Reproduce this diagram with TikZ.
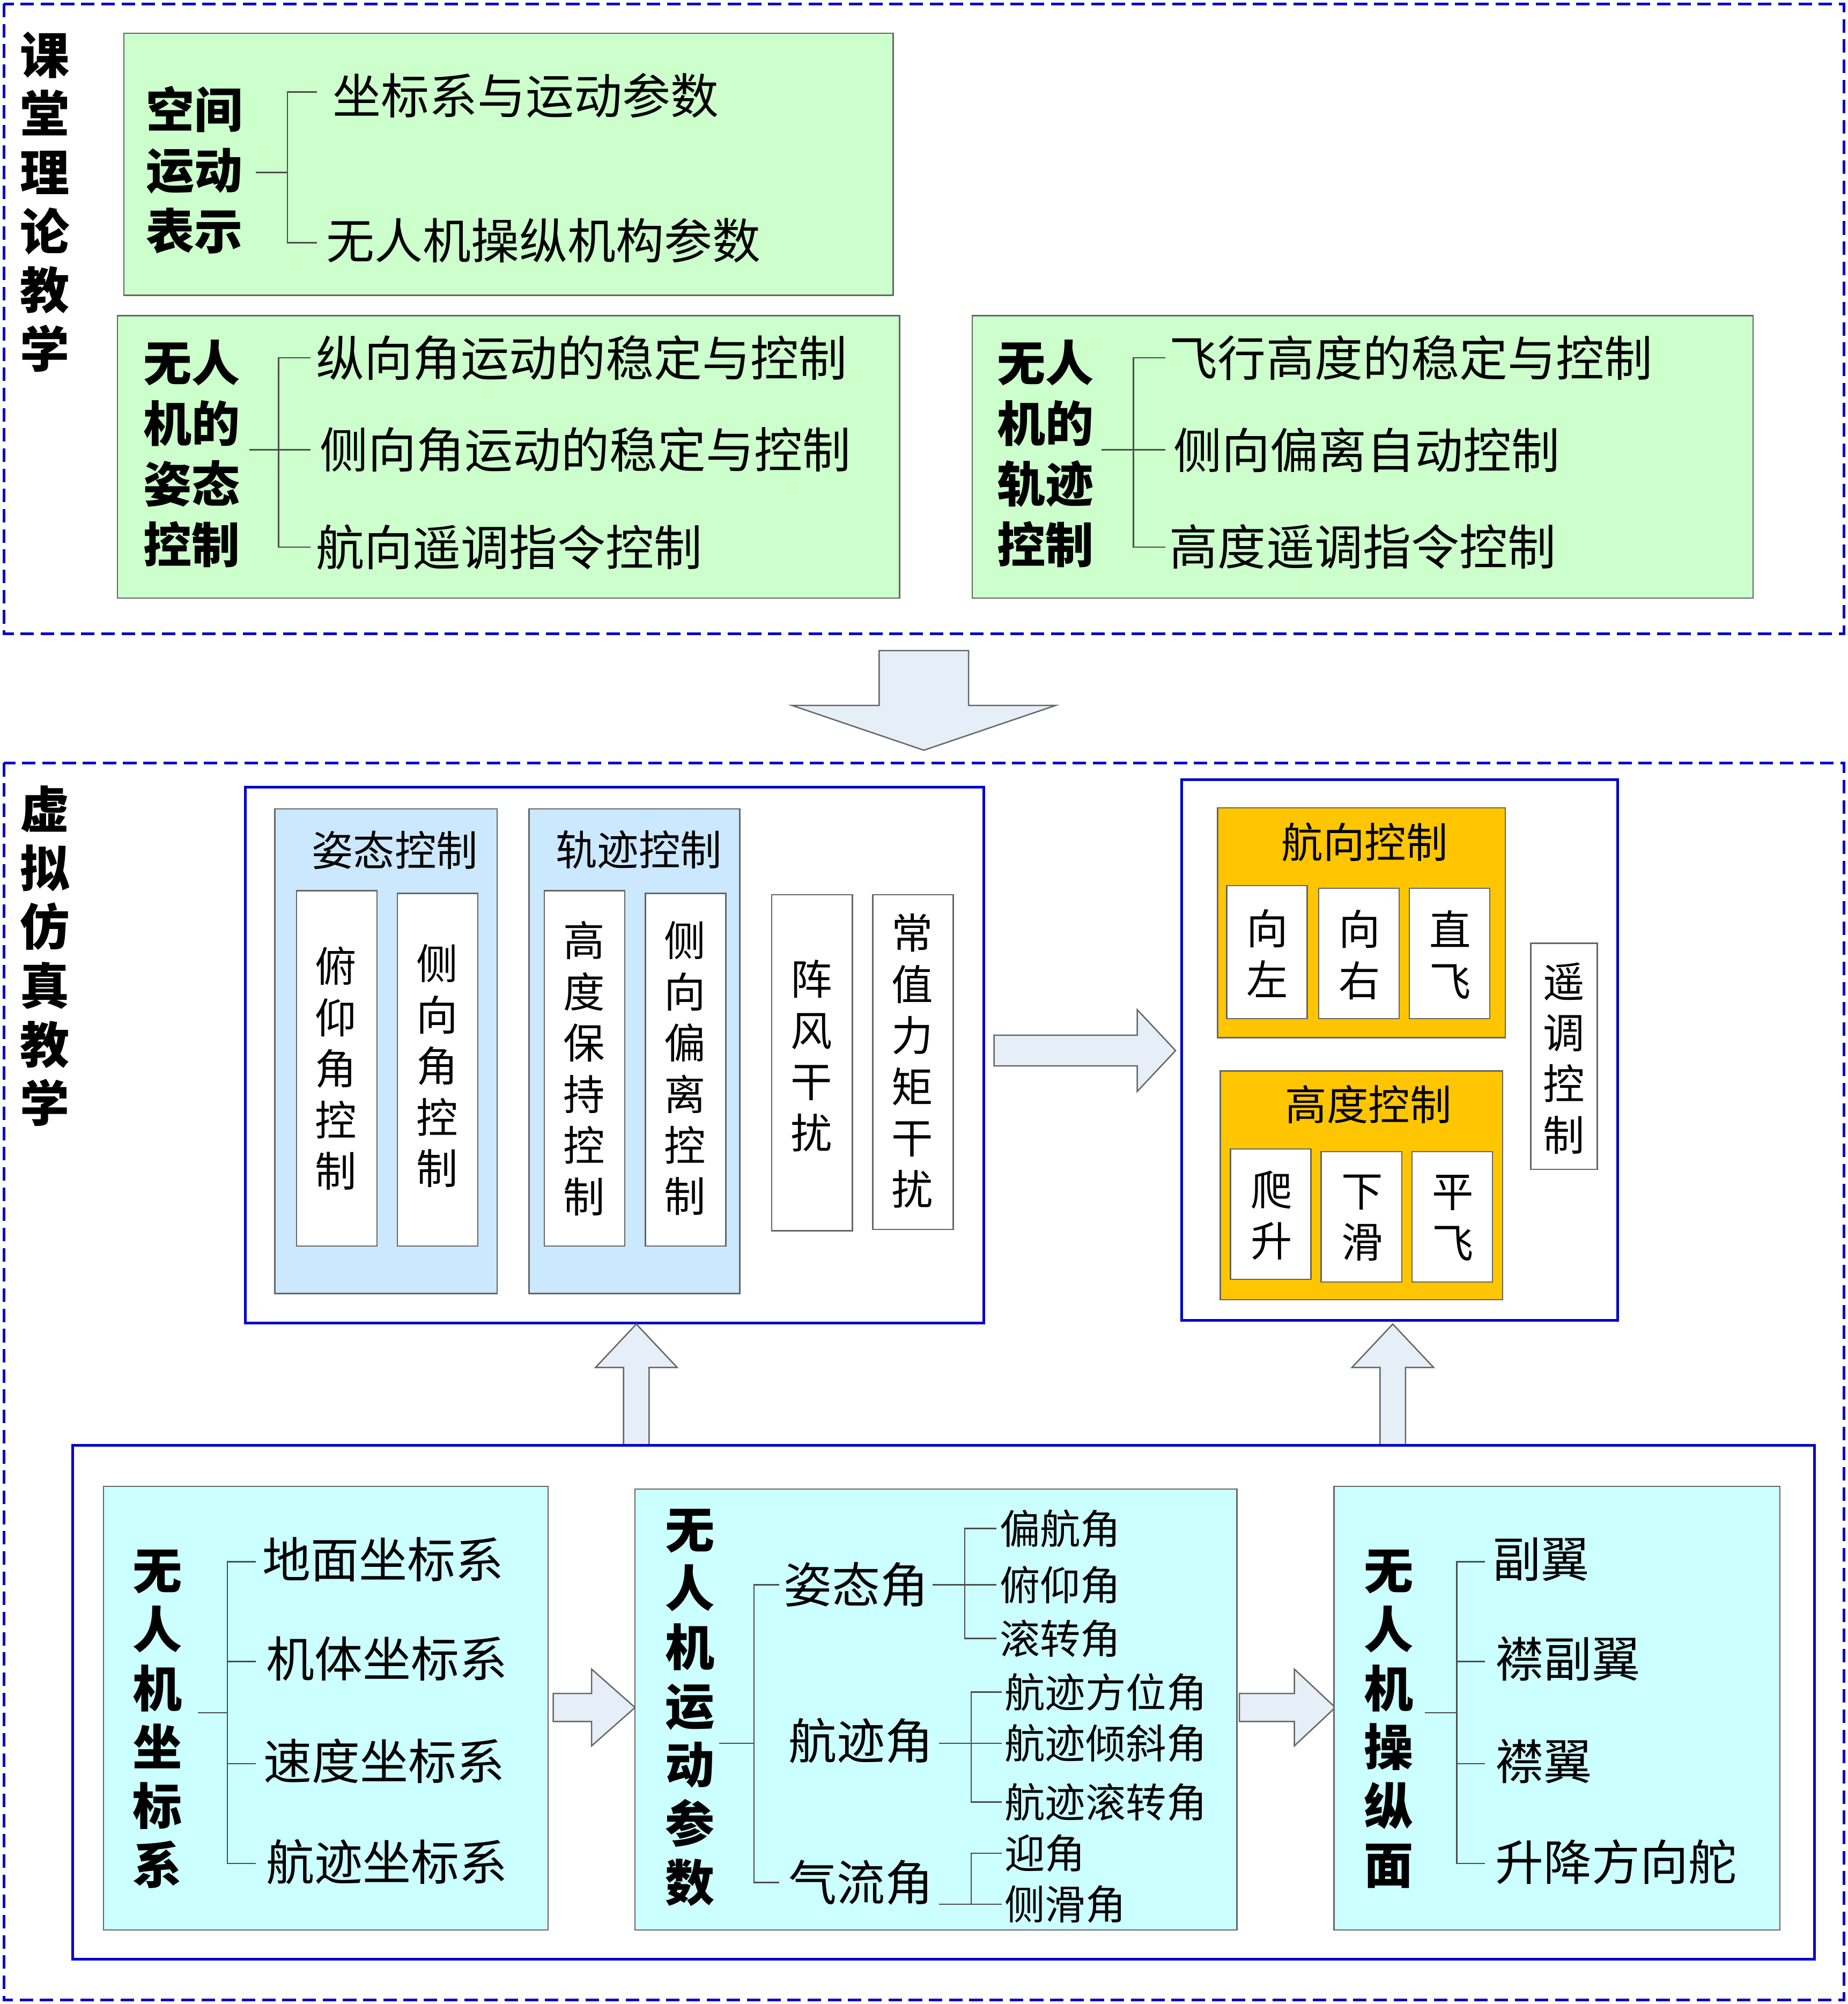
\documentclass[tikz,border=0pt]{standalone}
\usepackage{fontspec}
\setmainfont{Noto Sans CJK SC}
\begin{document}
\begin{tikzpicture}[x=0.02cm,y=-0.02cm,
  frame/.style={draw=blue!80!black,dash pattern=on 6pt off 3pt,line width=1.2pt},
  gbox/.style={draw=black!60,fill={rgb,255:red,204;green,255;blue,204},line width=0.6pt},
  bbox/.style={draw=blue!80!black,line width=1.2pt},
  pbox/.style={draw=black!60,fill={rgb,255:red,204;green,255;blue,255},line width=0.6pt},
  lbox/.style={draw=black!60,fill={rgb,255:red,204;green,232;blue,255},line width=0.6pt},
  obox/.style={draw=black!60,fill={rgb,255:red,255;green,198;blue,0},line width=0.6pt},
  wbox/.style={draw=black!60,fill=white,line width=0.6pt},
  bigarrow/.style={draw=black!60,fill={rgb,255:red,230;green,238;blue,248},line width=0.6pt},
  br/.style={draw=black!70,line width=0.6pt},
  big/.style={font=\fontsize{21.5}{24}\selectfont,anchor=west,inner sep=0},
  sml/.style={font=\fontsize{18}{20}\selectfont,anchor=west,inner sep=0},
  lab/.style={font=\fontsize{21.5}{27}\selectfont\bfseries,align=center,inner sep=0},
  vtxt/.style={font=\fontsize{18.5}{22.8}\selectfont,align=center,inner sep=0},
  side/.style={font=\fontsize{22}{26.2}\selectfont\bfseries,align=center,inner sep=0},
  ttl/.style={font=\fontsize{18.5}{22}\selectfont,inner sep=0}]
\useasboundingbox (0,0) rectangle (1446,1568);
% frames
\draw[frame] (3,3) rectangle (1443,496);
\draw[frame] (3,597) rectangle (1443,1565);
\node[side] (s1) at (35,158) {课\\堂\\理\\论\\教\\学};
\node[side] (s2) at (35,748) {虚\\拟\\仿\\真\\教\\学};
% top boxes
\draw[gbox] (97,26) rectangle (699,231);
\node[lab] (l1) at (152,133) {空间\\运动\\表示};
\draw[br] (200,135)--(225,135) (248,72)--(225,72)--(225,190)--(248,190);
\node[big] (t11) at (260,75) {坐标系与运动参数};
\node[big] (t12) at (255,188) {无人机操纵机构参数};
\draw[gbox] (92,247) rectangle (704,468);
\node[lab] (l2) at (150,355) {无人\\机的\\姿态\\控制};
\draw[br] (195,352)--(243,352) (243,280)--(218,280)--(218,428)--(243,428);
\node[big] (t21) at (247,280) {纵向角运动的稳定与控制};
\node[big] (t22) at (250,352) {侧向角运动的稳定与控制};
\node[big] (t23) at (247,428) {航向遥调指令控制};
\draw[gbox] (761,247) rectangle (1372,468);
\node[lab] (l3) at (818,355) {无人\\机的\\轨迹\\控制};
\draw[br] (862,352)--(912,352) (912,280)--(887,280)--(887,428)--(912,428);
\node[big] (t31) at (915,280) {飞行高度的稳定与控制};
\node[big] (t32) at (918,352) {侧向偏离自动控制};
\node[big] (t33) at (915,428) {高度遥调指令控制};
% down arrow
\draw[bigarrow] (688,509)--(758,509)--(758,552)--(826,552)--(723,587)--(620,552)--(688,552)--cycle;
% box A
\draw[bbox] (192,616) rectangle (770,1035);
\draw[lbox] (215,633) rectangle (389,1012);
\node[ttl] at (309,665) {姿态控制};
\draw[wbox] (232,697) rectangle (295,975); \node[vtxt] at (263,836) {俯\\仰\\角\\控\\制};
\draw[wbox] (311,699) rectangle (374,975); \node[vtxt] at (342,834) {侧\\向\\角\\控\\制};
\draw[lbox] (414,633) rectangle (579,1012);
\node[ttl] at (500,665) {轨迹控制};
\draw[wbox] (426,697) rectangle (489,975); \node[vtxt] at (457,836) {高\\度\\保\\持\\控\\制};
\draw[wbox] (505,699) rectangle (568,975); \node[vtxt] at (536,836) {侧\\向\\偏\\离\\控\\制};
\draw[wbox] (604,700) rectangle (667,963); \node[vtxt] at (635,826) {阵\\风\\干\\扰};
\draw[wbox] (683,700) rectangle (746,962); \node[vtxt] at (714,830) {常\\值\\力\\矩\\干\\扰};
% right arrow
\draw[bigarrow] (778,810)--(890,810)--(890,790)--(920,822)--(890,854)--(890,834)--(778,834)--cycle;
% box B
\draw[bbox] (925,610) rectangle (1266,1033);
\draw[obox] (953,632) rectangle (1178,812);
\node[ttl] at (1068,659) {航向控制};
\draw[wbox] (960,693) rectangle (1023,797); \node[vtxt] at (992,746) {向\\左};
\draw[wbox] (1032,695) rectangle (1095,797); \node[vtxt] at (1064,747) {向\\右};
\draw[wbox] (1103,695) rectangle (1166,797); \node[vtxt] at (1135,747) {直\\飞};
\draw[obox] (955,838) rectangle (1176,1017);
\node[ttl] at (1071,864) {高度控制};
\draw[wbox] (963,899) rectangle (1026,1001); \node[vtxt] at (995,951) {爬\\升};
\draw[wbox] (1034,901) rectangle (1097,1003); \node[vtxt] at (1066,953) {下\\滑};
\draw[wbox] (1105,901) rectangle (1168,1003); \node[vtxt] at (1137,953) {平\\飞};
\draw[wbox] (1198,738) rectangle (1250,915); \node[vtxt] at (1224,828) {遥\\调\\控\\制};
% up arrows
\draw[bigarrow] (488,1131)--(488,1070)--(466,1070)--(498,1036)--(530,1070)--(508,1070)--(508,1131)--cycle;
\draw[bigarrow] (1080,1131)--(1080,1070)--(1058,1070)--(1090,1036)--(1122,1070)--(1100,1070)--(1100,1131)--cycle;
% box C
\draw[bbox] (57,1131) rectangle (1420,1533);
\draw[pbox] (81,1163) rectangle (429,1510);
\node[side] at (123,1345) {无\\人\\机\\坐\\标\\系};
\draw[br] (155,1340)--(178,1340) (200,1222)--(178,1222)--(178,1458)--(200,1458);
\draw[br] (178,1300)--(200,1300) (178,1380)--(200,1380);
\node[big] at (205,1220) {地面坐标系};
\node[big] at (208,1298) {机体坐标系};
\node[big] at (206,1378) {速度坐标系};
\node[big] at (208,1457) {航迹坐标系};
\draw[bigarrow] (433,1325)--(463,1325)--(463,1306)--(497,1336)--(463,1366)--(463,1347)--(433,1347)--cycle;
\draw[pbox] (497,1165) rectangle (968,1510);
\node[side] at (540,1336) {无\\人\\机\\运\\动\\参\\数};
\draw[br] (563,1364)--(590,1364) (610,1240)--(590,1240)--(590,1473)--(610,1473);
\node[big] at (613,1240) {姿态角};
\node[big] at (617,1362) {航迹角};
\node[big] at (617,1473) {气流角};
\draw[br] (730,1240)--(780,1240) (780,1196)--(755,1196)--(755,1282)--(780,1282);
\node[sml] at (782,1196) {偏航角};
\node[sml] at (782,1240) {俯仰角};
\node[sml] at (782,1282) {滚转角};
\draw[br] (735,1364)--(784,1364) (784,1324)--(760,1324)--(760,1410)--(784,1410);
\node[sml] at (786,1324) {航迹方位角};
\node[sml] at (786,1364) {航迹倾斜角};
\node[sml] at (786,1410) {航迹滚转角};
\draw[br] (735,1490)--(784,1490) (784,1450)--(760,1450)--(760,1490);
\node[sml] at (786,1450) {迎角};
\node[sml] at (786,1490) {侧滑角};
\draw[bigarrow] (970,1325)--(1013,1325)--(1013,1306)--(1045,1336)--(1013,1366)--(1013,1347)--(970,1347)--cycle;
\draw[pbox] (1044,1163) rectangle (1393,1510);
\node[side] at (1087,1345) {无\\人\\机\\操\\纵\\面};
\draw[br] (1115,1340)--(1140,1340) (1162,1222)--(1140,1222)--(1140,1458)--(1162,1458);
\draw[br] (1140,1300)--(1162,1300) (1140,1380)--(1162,1380);
\node[big] at (1168,1220) {副翼};
\node[big] at (1170,1298) {襟副翼};
\node[big] at (1170,1378) {襟翼};
\node[big] at (1170,1457) {升降方向舵};
\end{tikzpicture}
\end{document}
